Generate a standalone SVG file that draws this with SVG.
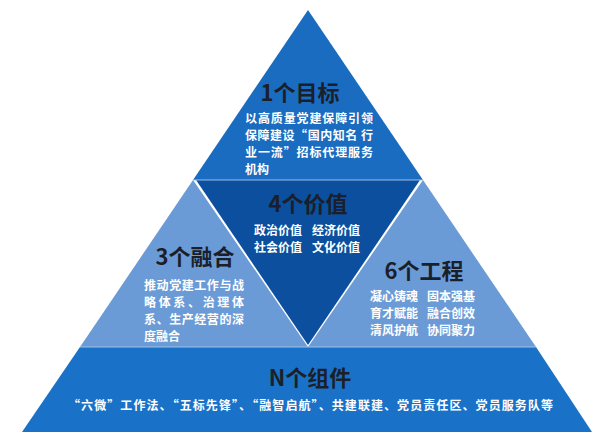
<svg xmlns="http://www.w3.org/2000/svg" width="600" height="447" viewBox="0 0 600 447">
<style>
.h{font-family:"Noto Sans CJK SC","Noto Sans",sans-serif;font-weight:700;fill:#1a1f29;text-anchor:middle}
.t{font-family:"Noto Sans CJK SC",sans-serif;font-weight:700;fill:#fff;font-size:12px}
.sep{stroke:#9cc0e8;stroke-width:1;fill:none}
</style>
<rect width="600" height="447" fill="#fff"/>
<g id="top"><polygon points="308,10 193,180 423,180" fill="#1a6cc0"/>
<text class="h" x="300" y="101" font-size="22">1个目标</text>
<text class="t" x="245" y="123" textLength="128">以高质量党建保障引领</text>
<text class="t" x="245" y="140" textLength="128">保障建设“国内知名 行</text>
<text class="t" x="245" y="157" textLength="128">业一流”招标代理服务</text>
<text class="t" x="245" y="174">机构</text></g>
<g id="left"><polygon points="193,180 308,347 80,347" fill="#6b9bd6"/>
<text class="h" x="195" y="265" font-size="22">3个融合</text>
<text class="t" x="144" y="290" textLength="100">推动党建工作与战</text>
<text class="t" x="144" y="307" textLength="100">略体系、治理体</text>
<text class="t" x="144" y="324" textLength="100">系、生产经营的深</text>
<text class="t" x="144" y="341">度融合</text></g>
<g id="right"><polygon points="423,180 536,347 308,347" fill="#6b9bd6"/>
<text class="h" x="424" y="279" font-size="22">6个工程</text>
<text class="t" x="370" y="301">凝心铸魂</text><text class="t" x="427" y="301">固本强基</text>
<text class="t" x="370" y="318">育才赋能</text><text class="t" x="427" y="318">融合创效</text>
<text class="t" x="370" y="335">清风护航</text><text class="t" x="427" y="335">协同聚力</text></g>
<g id="center"><polygon points="196,180 420,180 308,345" fill="#0b4f9e"/>
<text class="h" x="308" y="212" font-size="22">4个价值</text>
<text class="t" x="254" y="235">政治价值</text><text class="t" x="312" y="235">经济价值</text>
<text class="t" x="254" y="252">社会价值</text><text class="t" x="312" y="252">文化价值</text></g>
<g id="bottom"><polygon points="80,347 536,347 592,432 22,432" fill="#1a72c8"/>
<text class="h" x="310" y="386" font-size="22">N个组件</text>
<text class="t" x="68" y="410" textLength="485" lengthAdjust="spacing">“六微”工作法、“五标先锋”、“融智启航”、共建联建、党员责任区、党员服务队等</text></g>
<g id="connectors"><path class="sep" d="M193,180H423M80,347H536"/></g>
</svg>
